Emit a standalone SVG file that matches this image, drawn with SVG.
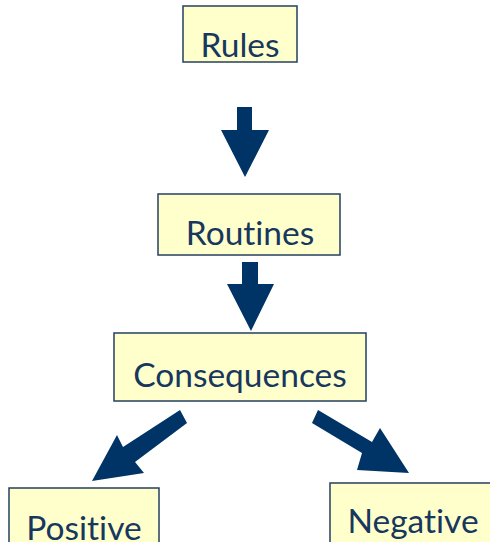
<svg xmlns="http://www.w3.org/2000/svg" width="490" height="542" viewBox="0 0 490 542">
<style>
.box{fill:#FFFFCC;stroke:#243F60;stroke-width:1.5}
.lbl{font-family:Lato,"Open Sans",sans-serif;font-size:33.5px;fill:#17375E;text-anchor:middle;font-variant-ligatures:none;font-feature-settings:"liga" 0}
.arr{fill:#003366}
</style>
<rect width="490" height="542" fill="#ffffff"/>
<g id="connectors">
<polygon class="arr" points="237,107 252,107 252,130 269,130 245,177 221,130 237,130"/>
<polygon class="arr" points="242,262 258,262 258,284 274,284 251,331 227,284 242,284"/>
<polygon class="arr" points="180,410 123,447 117,435 92,481 144,473 135,462 187,423"/>
<polygon class="arr" points="318,410 372,442 380,428 409,473 357,470 362,453 312,423"/>
</g>
<g id="rules"><rect class="box" x="183" y="6" width="114" height="56"/><text class="lbl" x="240" y="57">Rules</text></g>
<g id="routines"><rect class="box" x="158" y="194" width="182" height="61"/><text class="lbl" x="250" y="245">Routines</text></g>
<g id="consequences"><rect class="box" x="114" y="333" width="252" height="68"/><text class="lbl" x="240" y="387">Consequences</text></g>
<g id="positive"><rect class="box" x="9" y="488" width="150" height="60"/><text class="lbl" x="84" y="540">Positive</text></g>
<g id="negative"><rect class="box" x="330" y="483" width="165" height="65"/><text class="lbl" x="413" y="533">Negative</text></g>
</svg>
